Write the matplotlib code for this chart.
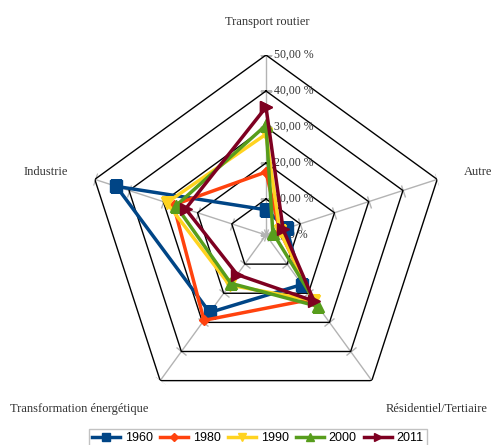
import numpy as np
import matplotlib.pyplot as plt
from matplotlib.markers import MarkerStyle
from matplotlib.transforms import Affine2D

# sectors, clockwise from the top
sectors = ['Transport routier', 'Autres', 'Résidentiel/Tertiaire',
           'Transformation énergétique', 'Industrie']
years = ['1960', '1980', '1990', '2000', '2011']

# share of consumption per sector (%)
share_1960 = [7.0, 6.0, 17.0, 26.6, 43.7]
share_1980 = [17.5, 4.0, 22.0, 29.3, 27.0]
share_1990 = [28.0, 4.0, 22.5, 17.2, 29.0]
share_2000 = [30.5, 2.0, 24.5, 16.6, 26.3]
share_2011 = [35.5, 5.0, 22.7, 13.6, 23.5]
shares = [share_1960, share_1980, share_1990, share_2000, share_2011]

levels = [0, 10, 20, 30, 40, 50]
level_labels = ['0,00 %', '10,00 %', '20,00 %', '30,00 %', '40,00 %', '50,00 %']

colors = ['#004586', '#ff420e', '#ffd320', '#579d1c', '#7e0021']
markers = ['s', 'D', 'v', '^', '>']
msizes = [8, 5, 8, 8, 8]

serif = 'Liberation Serif'

fig = plt.figure(figsize=(4.91, 4.45), dpi=100)
ax = fig.add_axes([86 / 491, 30 / 445, 360 / 491, 360 / 445], projection='polar')
ax.set_theta_offset(np.pi / 2)
ax.set_theta_direction(-1)
ax.set_ylim(0, 50)
ax.grid(False)
ax.spines['polar'].set_visible(False)
ax.set_xticks([])
ax.set_yticks([])
ax.patch.set_visible(False)

theta = np.deg2rad(np.arange(len(sectors)) * 72.0)
closed = np.append(theta, theta[0])

# spokes with small ticks at each level
for t in theta:
    ax.plot([t, t], [0, 50], color='#b3b3b3', lw=1, zorder=1)
    disp = 90 - np.rad2deg(t)
    tick = MarkerStyle('_', transform=Affine2D().rotate_deg(disp - 90))
    ax.plot([t] * len(levels), levels, ls='none', marker=tick,
            ms=9, mec='#b3b3b3', mew=1, zorder=1)

# pentagon grid
for lv in levels[1:]:
    ax.plot(closed, [lv] * len(closed), color='black', lw=1, zorder=2)

for lv, lab in zip(levels, level_labels):
    ax.annotate(lab, (0, lv), xytext=(6, 0), textcoords='offset points',
                va='center', ha='left', fontsize=8.5, family=serif,
                color='#333333', zorder=3)

for vals, yr, c, m, s in zip(shares, years, colors, markers, msizes):
    ax.plot(closed, vals + vals[:1], color=c, lw=2.5, marker=m, ms=s,
            mec=c, mfc=c, label=yr, zorder=4)

# sector names
W, H = 491, 445
fig.text(267 / W, 1 - 22 / H, sectors[0], ha='center', va='center',
         fontsize=9, family=serif, color='#333333')
fig.text(464 / W, 1 - 172 / H, sectors[1], ha='left', va='center',
         fontsize=9, family=serif, color='#333333')
fig.text(488 / W, 1 - 409 / H, sectors[2], ha='right', va='center',
         fontsize=9, family=serif, color='#333333')
fig.text(10 / W, 1 - 409 / H, sectors[3], ha='left', va='center',
         fontsize=9, family=serif, color='#333333')
fig.text(68 / W, 1 - 172 / H, sectors[4], ha='right', va='center',
         fontsize=9, family=serif, color='#333333')

leg = fig.legend(loc='upper center', bbox_to_anchor=(258 / W, 1 - 429 / H),
                 ncol=5, frameon=True, fancybox=False, handlelength=2.2,
                 handletextpad=0.4, columnspacing=0.6, borderpad=0.25,
                 borderaxespad=0, markerscale=0.75,
                 prop={'family': 'Liberation Sans', 'size': 9})
leg.get_frame().set_edgecolor('#b3b3b3')
leg.get_frame().set_linewidth(1)

fig.savefig('out.png', dpi=100)
